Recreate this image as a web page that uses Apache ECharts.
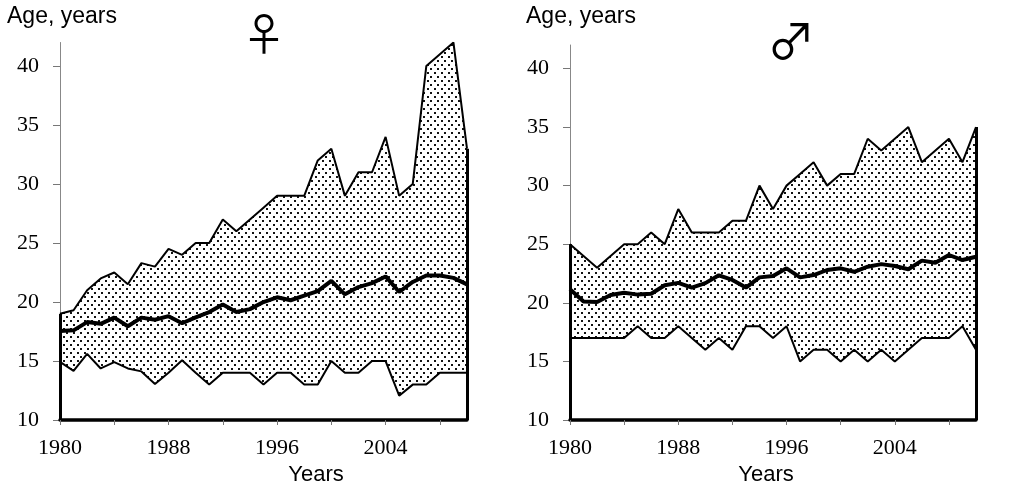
<!DOCTYPE html>
<html>
<head>
<meta charset="utf-8">
<script src="https://cdn.jsdelivr.net/npm/echarts@6/dist/echarts.min.js"></script>
<style>html,body{margin:0;padding:0;background:#fff}#c{width:1016px;height:491px}</style>
</head>
<body>
<div id="c"></div>
<script>
// ---- data ----
const years = ['1980','1981','1982','1983','1984','1985','1986','1987','1988','1989','1990','1991','1992','1993','1994','1995','1996','1997','1998','1999','2000','2001','2002','2003','2004','2005','2006','2007','2008','2009','2010'];
const yTicks = [10, 15, 20, 25, 30, 35, 40];
const femaleMax  = [19, 19.3, 21, 22, 22.5, 21.5, 23.3, 23, 24.5, 24, 25, 25, 27, 26, 27, 28, 29, 29, 29, 32, 33, 29, 31, 31, 34, 29, 30, 40, 41, 42, 33];
const femaleMean = [17.55, 17.6, 18.3, 18.15, 18.68, 17.95, 18.68, 18.5, 18.8, 18.2, 18.7, 19.15, 19.8, 19.15, 19.4, 20.0, 20.4, 20.15, 20.55, 20.93, 21.8, 20.65, 21.27, 21.6, 22.17, 20.85, 21.7, 22.25, 22.25, 22.05, 21.5];
const femaleMin  = [14.93, 14.17, 15.6, 14.37, 14.9, 14.37, 14.12, 13.05, 14.0, 15.07, 14.0, 13.0, 14.0, 14.0, 14.0, 13.0, 14.0, 14.0, 13.0, 13.0, 15.0, 14.0, 14.0, 15.0, 15.0, 12.06, 13.0, 13.0, 14.0, 14.0, 14.0];
const maleMax  = [25, 24, 23, 24, 25, 25, 26, 25, 28, 26, 26, 26, 27, 27, 30, 28, 30, 31, 32, 30, 31, 31, 34, 33, 34, 35, 32, 33, 34, 32, 35];
const maleMean = [21.15, 20.12, 20.07, 20.67, 20.86, 20.7, 20.77, 21.5, 21.7, 21.3, 21.68, 22.35, 21.95, 21.3, 22.17, 22.29, 22.94, 22.17, 22.37, 22.8, 22.94, 22.65, 23.08, 23.3, 23.14, 22.86, 23.6, 23.42, 24.08, 23.65, 23.93];
const maleMin  = [17, 17, 17, 17, 17, 18, 17, 17, 18, 17, 16, 17, 16, 18, 18, 17, 18, 15, 16, 16, 15, 16, 15, 16, 15, 16, 17, 17, 17, 18, 16];
const yMin = 10, yMax = 42;

function makeDots() {
  const c = document.createElement('canvas');
  c.width = 7; c.height = 8;
  const g = c.getContext('2d');
  g.fillStyle = '#fff'; g.fillRect(0, 0, 7, 8);
  g.fillStyle = '#111';
  g.fillRect(0, 0, 2, 2);
  g.fillRect(3, 4, 2, 2);
  return c;
}
const dots = makeDots();

const serif = '"Liberation Serif", "Times New Roman", serif';
const sans = '"Liberation Sans", Arial, sans-serif';

function xAxisDef(gi) {
  return {
    type: 'category', gridIndex: gi, data: years, boundaryGap: false, z: 5,
    axisLine: { lineStyle: { color: '#000', width: 3.5 } },
    axisTick: { interval: (i) => i % 4 === 0, length: 5, lineStyle: { color: '#777', width: 1 } },
    axisLabel: { interval: (i) => i % 8 === 0, fontFamily: serif, fontSize: 22, color: '#000', margin: 17 },
    splitLine: { show: false }
  };
}
function yAxisDef(gi) {
  return {
    type: 'value', gridIndex: gi, min: yMin, max: yMax, interval: 5, z: 1,
    axisLine: { show: true, lineStyle: { color: '#888', width: 1 } },
    axisTick: { show: true, length: 7, customValues: yTicks, lineStyle: { color: '#777', width: 1 } },
    axisLabel: { customValues: yTicks, fontFamily: serif, fontSize: 22, color: '#000', margin: 21 },
    splitLine: { show: false }
  };
}
function panel(gi, maxArr, meanArr, minArr) {
  const last = years.length - 1;
  return [
    { type: 'line', xAxisIndex: gi, yAxisIndex: gi, data: maxArr, symbol: 'none', z: 2,
      lineStyle: { color: '#000', width: 2 }, areaStyle: { origin: 'start', color: { image: dots, repeat: 'repeat' }, opacity: 1 } },
    { type: 'line', xAxisIndex: gi, yAxisIndex: gi, data: minArr, symbol: 'none', z: 3,
      lineStyle: { color: '#000', width: 2 }, areaStyle: { origin: 'start', color: '#fff', opacity: 1 } },
    { type: 'line', xAxisIndex: gi, yAxisIndex: gi, data: meanArr, symbol: 'none', z: 4,
      lineStyle: { color: '#000', width: 4 },
      markLine: { silent: true, symbol: 'none', label: { show: false }, animation: false,
        lineStyle: { color: '#000', width: 3, type: 'solid' },
        data: [
          [{ coord: [years[0], yMin] }, { coord: [years[0], maxArr[0]] }],
          [{ coord: [years[last], yMin] }, { coord: [years[last], maxArr[last]] }]
        ] } }
  ];
}

const chart = echarts.init(document.getElementById('c'), null, { renderer: 'canvas' });
chart.setOption({
  animation: false,
  backgroundColor: '#fff',
  grid: [
    { left: 60, top: 42.5, width: 407, height: 377.5 },
    { left: 570, top: 45, width: 406, height: 375 }
  ],
  xAxis: [xAxisDef(0), xAxisDef(1)],
  yAxis: [yAxisDef(0), yAxisDef(1)],
  series: [].concat(panel(0, femaleMax, femaleMean, femaleMin), panel(1, maleMax, maleMean, maleMin)),
  graphic: [
    { type: 'text', left: 7, top: 5, style: { text: 'Age, years', font: '23px ' + sans, fill: '#000' } },
    { type: 'text', left: 526, top: 5, style: { text: 'Age, years', font: '23px ' + sans, fill: '#000' } },
    { type: 'text', x: 316, y: 475, style: { text: 'Years', font: '22px ' + sans, fill: '#000', align: 'center', verticalAlign: 'middle' } },
    { type: 'text', x: 766, y: 475, style: { text: 'Years', font: '22px ' + sans, fill: '#000', align: 'center', verticalAlign: 'middle' } },
    { type: 'text', x: 264, y: 34, style: { text: '\u2640', font: '44px "Noto Sans CJK JP"', fill: '#000', align: 'center', verticalAlign: 'middle' } },
    { type: 'text', x: 791, y: 41, style: { text: '\u2642', font: '48px "Noto Sans CJK JP"', fill: '#000', align: 'center', verticalAlign: 'middle' } }
  ]
});
</script>
</body>
</html>
